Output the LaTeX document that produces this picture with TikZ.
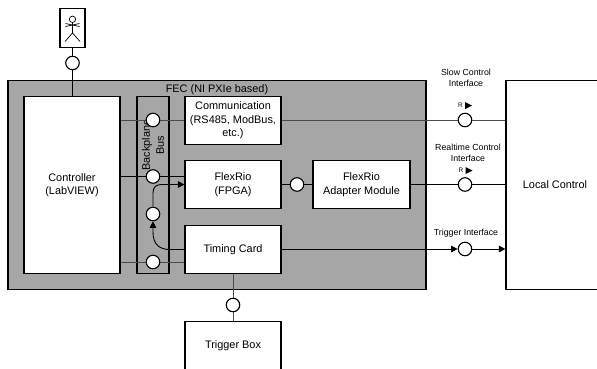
\documentclass[tikz,border=0pt]{standalone}
\usepackage{fontspec}
\setmainfont{Liberation Sans}
\usetikzlibrary{arrows.meta}
\definecolor{fecgray}{HTML}{A6A6A6}
\tikzset{
 x=1pt,y=-1pt,
 box/.style={draw=black,fill=white,line width=1.15pt,inner sep=0pt,align=center,font=\fontsize{10.9}{13.4}\selectfont},
 port/.style={circle,draw=black,fill=white,line width=1.15pt,minimum size=13.5pt,inner sep=0pt},
 wire/.style={draw=black,line width=0.9pt},
 gwire/.style={draw=black!70,line width=1pt},
 flow/.style={wire,-{Triangle[length=6.5pt,width=6.5pt]}},
 lab/.style={font=\fontsize{8.8}{11}\selectfont,align=center,inner sep=0pt},
 rmark/.style={font=\fontsize{6.5}{6.5}\selectfont,inner sep=0pt},
}
\begin{document}
\begin{tikzpicture}
\useasboundingbox (0,0) rectangle (597,368);
% FEC container
\node[draw=black,fill=fecgray,line width=1.15pt,minimum width=418pt,minimum height=209pt,inner sep=0pt] (fec) at (217,185) {};
\node[font=\fontsize{10.9}{12}\selectfont,inner sep=0pt] (feclabel) at (217,89.5) {FEC (NI PXIe based)};
% boxes
\node[box,minimum width=96pt,minimum height=177pt] (ctrl) at (72,185) {Controller\\(LabVIEW)};
\node[draw=black,line width=1.15pt,minimum width=32pt,minimum height=177pt,inner sep=0pt] (bus) at (153,185) {};
\node[box,minimum width=96pt,minimum height=48pt] (comm) at (233,120.5) {Communication\\(RS485, ModBus,\\etc.)};
\node[box,minimum width=96pt,minimum height=48pt] (rio) at (233,184.5) {FlexRio\\(FPGA)};
\node[box,minimum width=96pt,minimum height=48pt] (timing) at (233,249.5) {Timing Card};
\node[box,minimum width=97pt,minimum height=48pt] (adapter) at (361.5,184.5) {FlexRio\\Adapter Module};
\node[box,minimum width=96pt,minimum height=48pt] (trig) at (233,345.5) {Trigger Box};
\node[box,minimum width=120pt,minimum height=209pt] (local) at (566,185) {\hspace*{-22pt}Local Control};
\node[box,minimum width=25pt,minimum height=39pt] (actor) at (72.5,28) {};
% stick figure
\draw[line width=0.7pt] (72.5,19.3) circle (3.2);
\draw[line width=0.7pt] (72.5,22.5) -- (72.5,33) (65.5,26.5) -- (79.5,23.5) (65.5,23.5)--(79.5,26.5) (72.5,33) -- (65,41.5) (72.5,33) -- (80,41.5);
% bus label
\node[rotate=90,align=center,font=\fontsize{10.9}{14}\selectfont,inner sep=0pt] (buslabel) at (153,145) {Backplane\\Bus};
% ports
\node[port] (pa) at (72.5,63) {};
\coordinate (p1c) at (153,120);
\coordinate (p2c) at (153,176.5);
\coordinate (p4c) at (153,262);
\draw[wire] (actor) -- (pa);
\draw[wire] (pa) -- (ctrl.north -| pa);
\draw[gwire] (ctrl.east |- p1c) -- (comm.west |- p1c);
\draw[wire] (ctrl.east |- p2c) -- (rio.west |- p2c);
\draw[gwire] (ctrl.east |- p4c) -- (timing.west |- p4c);
\node[port] (p1) at (p1c) {};
\node[port] (p2) at (p2c) {};
\node[port] (p3) at (153,214) {};
\node[port] (p4) at (p4c) {};
\node[port] (p5) at (297,184.5) {};
\node[port] (p6) at (233,305) {};
\node[port] (s1) at (465,120) {};
\node[port] (s2) at (465,184.5) {};
\node[port] (s3) at (465,249) {};
% connectors
\draw[wire] (rio) -- (p5);
\draw[wire] (p5) -- (adapter);
\draw[gwire] (timing) -- (p6);
\draw[gwire] (p6) -- (trig);
\draw[gwire] (comm.east |- s1) -- (s1);
\draw[gwire] (s1) -- (local.west |- s1);
\draw[wire] (adapter.east) -- (s2);
\draw[wire] (s2) -- (local.west |- s2);
\draw[flow] (timing.east |- s3) -- (s3);
\draw[flow] (s3) -- (local.west |- s3);
\draw[flow] (p3.north) -- (153,193) .. controls (153,187) and (156,184.5) .. (162,184.5) -- (rio.west);
\draw[flow] (timing.west) -- (170,249.5) .. controls (160,249.5) and (153,245) .. (153,232) -- (p3.south);
% interface labels
\node[lab] (l1) at (466,77.5) {Slow Control\\Interface};
\node[lab] (l2) at (468,152.5) {Realtime Control\\Interface};
\node[lab] (l3) at (466,233) {Trigger Interface};
\node[rmark] (r1) at (460.5,105.5) {R};
\node[rmark] (r2) at (461,170.5) {R};
\fill (465,102) -- (472,105.5) -- (465,109) -- cycle;
\fill (465.5,167) -- (472.5,170.5) -- (465.5,174) -- cycle;
\end{tikzpicture}
\end{document}
